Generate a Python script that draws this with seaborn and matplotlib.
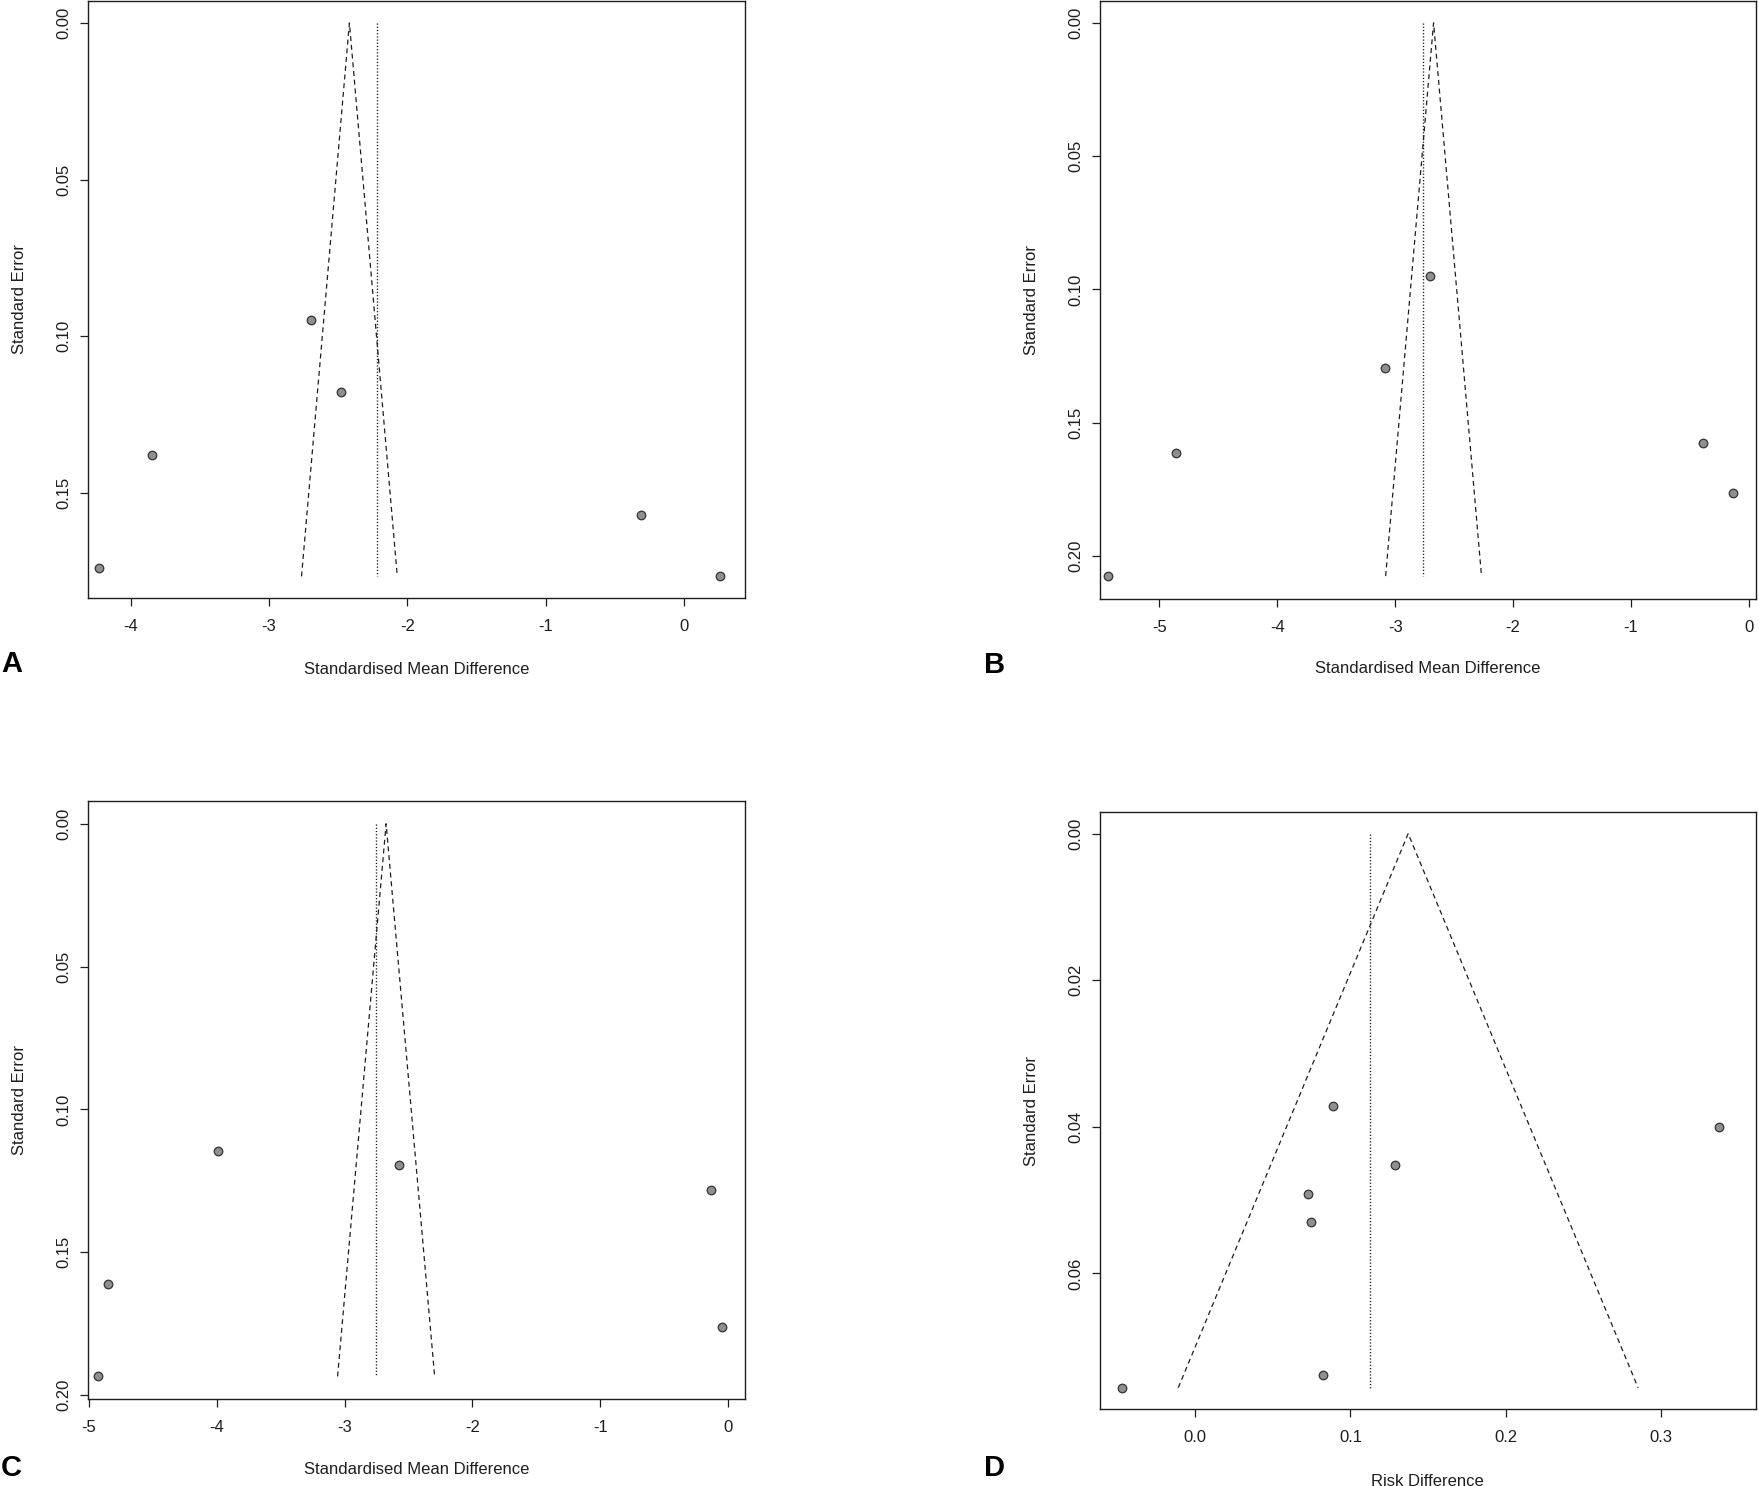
import matplotlib
matplotlib.use("Agg")
import matplotlib.pyplot as plt
import seaborn as sns
import pandas as pd

# ---------------- data ----------------
# Panel A
a_effect = [-2.694, -2.479, -3.846, -4.231, -0.312, 0.264]
a_se = [0.0949, 0.1179, 0.1378, 0.1738, 0.1569, 0.1766]
a_funnel_center = -2.418
a_ref_line = -2.219

# Panel B
b_effect = [-5.433, -4.858, -3.090, -2.705, -0.385, -0.133]
b_se = [0.2075, 0.1615, 0.1293, 0.0951, 0.1575, 0.1762]
b_funnel_center = -2.674
b_ref_line = -2.767

# Panel C
c_effect = [-4.930, -4.851, -3.992, -2.574, -0.134, -0.051]
c_se = [0.1935, 0.1612, 0.1147, 0.1196, 0.1281, 0.1762]
c_funnel_center = -2.675
c_ref_line = -2.753

# Panel D
d_effect = [-0.047, 0.0888, 0.1289, 0.0726, 0.0747, 0.0823, 0.3376]
d_se = [0.0756, 0.0371, 0.0452, 0.0491, 0.0530, 0.0739, 0.0400]
d_funnel_center = 0.1372
d_ref_line = 0.1123

smd_label = "Standardised Mean Difference"
rd_label = "Risk Difference"
se_label = "Standard Error"

a_xticks = [-4, -3, -2, -1, 0]
b_xticks = [-5, -4, -3, -2, -1, 0]
c_xticks = [-5, -4, -3, -2, -1, 0]
d_xticks = [0.0, 0.1, 0.2, 0.3]
a_yticks = [0.00, 0.05, 0.10, 0.15]
b_yticks = [0.00, 0.05, 0.10, 0.15, 0.20]
c_yticks = [0.00, 0.05, 0.10, 0.15, 0.20]
d_yticks = [0.00, 0.02, 0.04, 0.06]

# ---------------- style ----------------
sns.set_theme(style="white")
plt.rcParams["font.family"] = ["Liberation Sans", "DejaVu Sans"]
INK = "#1e1e1e"

W, H = 1759, 1486
fig = plt.figure(figsize=(W / 100, H / 100), dpi=100)


def px_axes(left, top, right, bottom):
    return fig.add_axes([left / W, 1 - bottom / H, (right - left) / W, (bottom - top) / H])


panels = [
    dict(box=(88, 1, 745, 598), x=a_effect, se=a_se, center=a_funnel_center, ref=a_ref_line,
         xlim=(-4.308, 0.442), ylim=(0.1835, -0.0070), xticks=a_xticks, yticks=a_yticks,
         xfmt="{:.0f}", yfmt="{:.2f}", xlabel=smd_label, letter="A", letter_pos=(1, 664), xlab_y=669),
    dict(box=(1100, 1, 1755.6, 599), x=b_effect, se=b_se, center=b_funnel_center, ref=b_ref_line,
         xlim=(-5.504, 0.058), ylim=(0.2161, -0.0082), xticks=b_xticks, yticks=b_yticks,
         xfmt="{:.0f}", yfmt="{:.2f}", xlabel=smd_label, letter="B", letter_pos=(984, 665), xlab_y=669),
    dict(box=(88, 801.2, 745, 1399), x=c_effect, se=c_se, center=c_funnel_center, ref=c_ref_line,
         xlim=(-5.005, 0.130), ylim=(0.2014, -0.0079), xticks=c_xticks, yticks=c_yticks,
         xfmt="{:.0f}", yfmt="{:.2f}", xlabel=smd_label, letter="C", letter_pos=(1, 1468), xlab_y=1470),
    dict(box=(1100, 812.4, 1755.6, 1409), x=d_effect, se=d_se, center=d_funnel_center, ref=d_ref_line,
         xlim=(-0.0614, 0.3611), ylim=(0.0785, -0.0029), xticks=d_xticks, yticks=d_yticks,
         xfmt="{:.1f}", yfmt="{:.2f}", xlabel=rd_label, letter="D", letter_pos=(984, 1468), xlab_y=1481),
]

for p in panels:
    l, t, r, b = p["box"]
    ax = px_axes(l, t, r, b)
    df = pd.DataFrame({"effect": p["x"], "se": p["se"]})
    se_max = max(p["se"])
    lo = p["center"] - 1.96 * se_max
    hi = p["center"] + 1.96 * se_max
    # funnel (pseudo 95% CI) and reference line
    ax.plot([lo, p["center"], hi], [se_max, 0, se_max], color=INK, lw=0.9,
            linestyle=(0, (4.0, 3.0)), zorder=2)
    ax.plot([p["ref"], p["ref"]], [0, se_max], color=INK, lw=1.0,
            linestyle=(0, (0.9, 1.4)), zorder=2)
    sns.scatterplot(data=df, x="effect", y="se", ax=ax, s=38, color="#8f8f8f",
                    edgecolor="#333333", linewidth=0.9, zorder=3, legend=False)
    ax.set_xlim(*p["xlim"])
    ax.set_ylim(*p["ylim"])
    ax.set_xticks(p["xticks"])
    ax.set_xticklabels([p["xfmt"].format(v) for v in p["xticks"]])
    ax.set_yticks(p["yticks"])
    ax.set_yticklabels([p["yfmt"].format(v) for v in p["yticks"]], rotation=90, va="center")
    ax.tick_params(axis="both", which="major", direction="out", length=6, width=0.9,
                   colors=INK, labelsize=12, bottom=True, left=True)
    ax.tick_params(axis="x", pad=9)
    ax.tick_params(axis="y", pad=6)
    for s in ax.spines.values():
        s.set_color(INK)
        s.set_linewidth(1.0)
        s.set_visible(True)
    ax.set_xlabel(p["xlabel"], fontsize=12, color=INK)
    ax.set_ylabel(se_label, fontsize=12, color=INK)
    height_px = b - t
    width_px = r - l
    ax.xaxis.set_label_coords(0.5, -(p["xlab_y"] - b) / height_px)
    ax.xaxis.label.set_va("center")
    ax.yaxis.set_label_coords(-(l - (20 if l < 500 else 1031)) / width_px, 0.5)
    ax.yaxis.label.set_va("center")
    lx, ly = p["letter_pos"]
    fig.text(lx / W, 1 - ly / H, p["letter"], fontsize=21, fontweight="bold",
             ha="left", va="center", color="black")

fig.savefig("out.png", dpi=100, facecolor="white")
